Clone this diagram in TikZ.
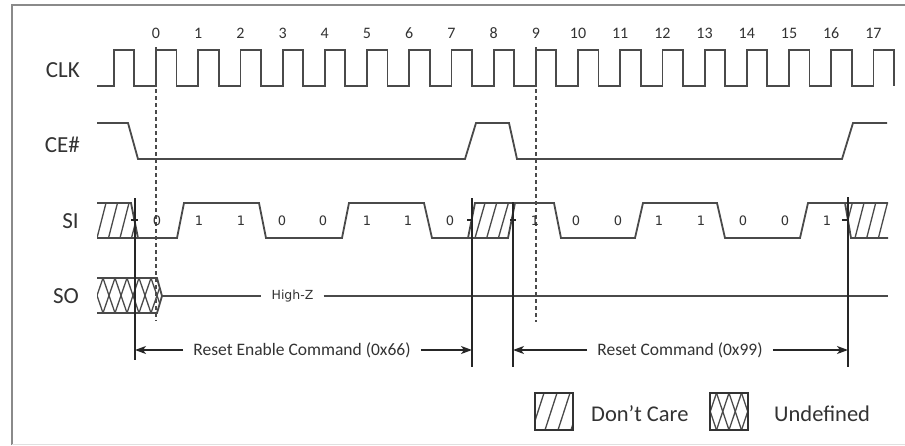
\documentclass[tikz,border=0pt]{standalone}
\usepackage{fontspec}
\setmainfont{Carlito}
\newfontfamily\dvs{DejaVu Sans}
\usetikzlibrary{arrows.meta}
\definecolor{wavec}{HTML}{4A4A4A}
\definecolor{txtc}{HTML}{333333}
\definecolor{framec}{HTML}{8A8A8A}
\begin{document}
\begin{tikzpicture}[x=1pt,y=-1pt,
  wave/.style={draw=wavec, line width=1.8pt, line join=miter},
  hatchln/.style={draw=wavec, line width=1.3pt},
  vline/.style={draw=black!85, line width=1.1pt},
  dashln/.style={draw=wavec, line width=1.4pt, dash pattern=on 4pt off 3pt},
  dimarrow/.style={draw=black!85, line width=1.2pt, -{Stealth[length=11pt,width=8pt,inset=3pt]}},
  siglabel/.style={font=\fontsize{23}{26}\selectfont, text=txtc, anchor=east, inner sep=0pt},
  clknum/.style={font=\fontsize{16}{18}\selectfont, text=txtc, inner sep=0pt},
  bitlabel/.style={font=\dvs\fontsize{13}{15}\selectfont, text=txtc, inner sep=0pt},
  cmdlabel/.style={font=\fontsize{17.5}{20}\selectfont, text=txtc, inner ysep=0pt},
  legendlabel/.style={font=\fontsize{22.5}{25}\selectfont, text=txtc, anchor=west, inner sep=0pt},
  legbox/.style={draw=black!80, line width=1.8pt}
]
\useasboundingbox (0,0) rectangle (905,445);
\fill[white] (0,0) rectangle (905,445);
% frame
\draw[framec, line width=2pt] (12,445) -- (12,5) -- (905,5);
\draw[black!12, line width=1pt] (12,444) -- (905,444);

% signal labels
\node[siglabel] (lclk) at (80,70) {CLK};
\node[siglabel] (lce) at (80,145) {CE\#};
\node[siglabel] (lsi) at (79,221) {SI};
\node[siglabel] (lso) at (79,296) {SO};

% clock numbers
\foreach \k in {0,...,17} \node[clknum] (c\k) at ({156+42.2*\k},33) {\k};

% CLK waveform
\draw[wave] (97,86) \foreach \k in {-1,...,17} { -- ({156+42.2*\k},86) -- ++(0,-36) -- ++(20.5,0) -- ++(0,36) };

% dashed markers
\draw[dashln] (156,47) -- (156,321);
\draw[dashln] (535.8,47) -- (535.8,322);

% CE#
\draw[wave] (97,123) -- (128,123) -- (138,159) -- (465,159) -- (476,123) -- (509,123) -- (517,159) -- (842,159) -- (853,123) -- (887,123);

% SI hatched regions
\begin{scope}
\clip (97,203) -- (131,203) -- (138,238) -- (97,238) -- cycle;
\foreach \i in {-1,...,3} \draw[hatchln] ({97+11.5*\i},238) -- ++(9,-35);
\end{scope}
\begin{scope}
\clip (468,238) -- (475,203) -- (515,203) -- (508,238) -- cycle;
\foreach \i in {-1,...,3} \draw[hatchln] ({475+11.7*\i},238) -- ++(10,-35);
\end{scope}
\begin{scope}
\clip (845,203) -- (888,203) -- (888,238) -- (851,238) -- cycle;
\foreach \i in {-1,...,3} \draw[hatchln] ({855+11.7*\i},238) -- ++(9,-35);
\end{scope}

% SI waveform
\draw[wave] (97,203) -- (131,203) -- (138,238);
\draw[wave] (97,238) -- (177,238) -- (184,203) -- (259,203) -- (266,238) -- (342,238) -- (349,203) -- (424,203) -- (432,238) -- (468,238) -- (475,203) -- (554,203) -- (561,238) -- (635,238) -- (643,203) -- (717,203) -- (725,238) -- (800,238) -- (808,203) -- (888,203);
\draw[wave] (468,238) -- (508,238) -- (515,203);
\draw[wave] (845,203) -- (851,238) -- (888,238);

% SI bit labels
\foreach \x/\b [count=\n] in {157/0,199/1,241/1,282/0,323/0,367/1,408/1,450/0,535/1,576/0,618/0,659/1,701/1,743/0,785/0,827/1}
  \node[bitlabel] (b\n) at (\x,221) {\b};

% SO undefined region
\begin{scope}
\clip (97,278) -- (157,278) -- (162,296) -- (157,313) -- (97,313) -- cycle;
\foreach \i in {-1,...,6} {
  \draw[hatchln] ({91+12*\i},278) -- ++(12,35);
  \draw[hatchln] ({91+12*\i},313) -- ++(12,-35);
}
\end{scope}
\draw[wave] (97,278) -- (157,278) -- (162,296) -- (157,313) -- (97,313);
\node[font=\dvs\fontsize{12.5}{14}\selectfont, text=txtc, inner xsep=10pt, inner ysep=0pt] (hz) at (292.5,296) {High-Z};
\coordinate (soend) at (888,296);
\coordinate (sostart) at (162,296);
\draw[wave] (sostart) -- (hz.west);
\draw[wave] (hz.east) -- (soend);

% vertical reference lines
\coordinate (v1t) at (135,198); \coordinate (v1b) at (135,360);
\coordinate (v2t) at (472,198); \coordinate (v2b) at (472,367);
\coordinate (v3t) at (513,202); \coordinate (v3b) at (513,367);
\coordinate (v4t) at (848,197); \coordinate (v4b) at (848,367);
\draw[vline] (v1t) -- (v1b);
\draw[vline] (v2t) -- (v2b);
\draw[vline] (v3t) -- (v3b);
\draw[vline] (v4t) -- (v4b);
% small ticks
\draw[vline] (131,220) -- (138,220);
\draw[vline] (467,220) -- (473,220);
\draw[vline] (510,220) -- (516,220);
\draw[vline] (842,220) -- (848,220);

% command arrows
\node[cmdlabel, inner xsep=10pt] (t1) at (302,350) {Reset Enable Command (0x66)};
\node[cmdlabel, inner xsep=10pt] (t2) at (680,350) {Reset Command (0x99)};
\coordinate (a1) at (135,350);
\coordinate (a2) at (472,350);
\coordinate (a3) at (513,350);
\coordinate (a4) at (848,350);
\draw[dimarrow] (t1.west) -- (a1);
\draw[dimarrow] (t1.east) -- (a2);
\draw[dimarrow] (t2.west) -- (a3);
\draw[dimarrow] (t2.east) -- (a4);

% legend
\begin{scope}
\clip (535,393) rectangle (573,430);
\foreach \i in {-1,...,3} \draw[hatchln] ({532+13*\i},430) -- ++(12,-37);
\end{scope}
\node[legbox, minimum width=38pt, minimum height=37pt, inner sep=0pt] (ldc) at (554,411.5) {};
\begin{scope}
\clip (710,393) rectangle (748,430);
\foreach \i in {-1,...,4} {
  \draw[hatchln] ({704+12.5*\i},393) -- ++(12.5,37);
  \draw[hatchln] ({704+12.5*\i},430) -- ++(12.5,-37);
}
\end{scope}
\node[legbox, minimum width=38pt, minimum height=37pt, inner sep=0pt] (lud) at (729,411.5) {};
\node[legendlabel] (tdc) at (591,414) {Don’t Care};
\node[legendlabel] (tud) at (774,414) {Undefined};
\end{tikzpicture}
\end{document}
